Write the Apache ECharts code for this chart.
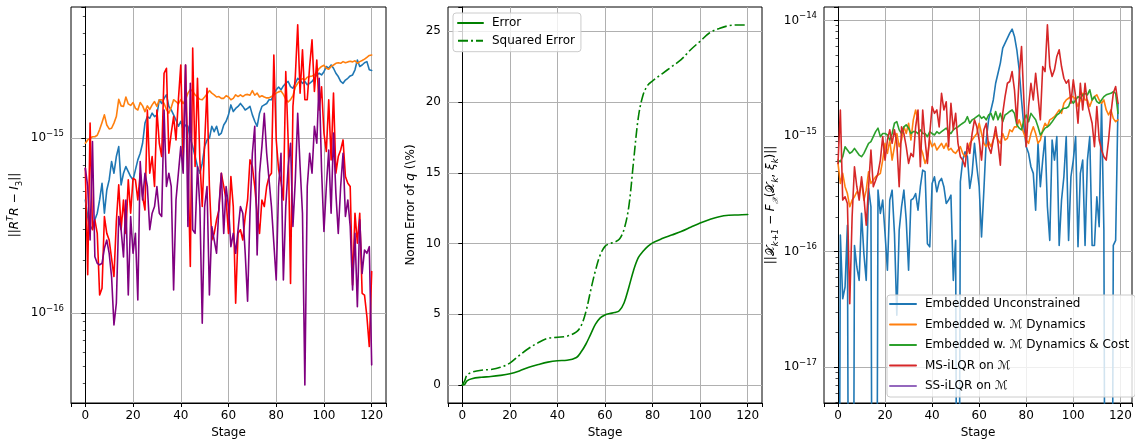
<!DOCTYPE html>
<html><head><meta charset="utf-8">
<script src="https://cdn.jsdelivr.net/npm/echarts@6/dist/echarts.min.js"></script>
<style>html,body{margin:0;padding:0;background:#fff}#c{width:1135px;height:444px}</style>
</head><body><div id="c"></div>
<script>
// ---------------- DATA (stage index = array position) ----------------
// Left panel: ||R^T R - I3|| per stage 0..120
const leftBlue = [
4.44e-16,3.57e-16,3.0e-16,3.13e-16,3.42e-16,3.73e-16,4.44e-16,5.53e-16,3.73e-16,5.06e-16,
5.78e-16,7.36e-16,6.31e-16,7.86e-16,8.96e-16,5.41e-16,6.31e-16,6.89e-16,6.45e-16,6.04e-16,
5.78e-16,6.59e-16,7.52e-16,8.21e-16,9.36e-16,1.22e-15,1.33e-15,1.30e-15,1.39e-15,1.33e-15,
1.36e-15,1.66e-15,1.58e-15,1.69e-15,1.77e-15,1.52e-15,1.45e-15,1.36e-15,1.27e-15,1.17e-15,
1.25e-15,1.12e-15,1.19e-15,1.17e-15,1.0e-15,8.96e-16,7.86e-16,6.89e-16,6.31e-16,7.2e-16,
8.96e-16,9.78e-16,1.0e-15,1.17e-15,1.09e-15,1.17e-15,1.04e-15,1.07e-15,1.19e-15,1.25e-15,
1.36e-15,1.55e-15,1.42e-15,1.48e-15,1.52e-15,1.58e-15,1.52e-15,1.45e-15,1.48e-15,1.52e-15,
1.36e-15,1.25e-15,1.17e-15,1.39e-15,1.52e-15,1.55e-15,1.58e-15,1.66e-15,1.66e-15,1.81e-15,
1.89e-15,1.96e-15,1.89e-15,1.99e-15,2.06e-15,2.11e-15,1.97e-15,1.93e-15,2.06e-15,2.2e-15,
2.15e-15,2.06e-15,2.11e-15,2.02e-15,2.06e-15,2.11e-15,2.2e-15,2.3e-15,2.35e-15,2.3e-15,
2.4e-15,2.57e-15,2.51e-15,2.62e-15,2.51e-15,2.35e-15,2.25e-15,2.11e-15,2.06e-15,2.15e-15,
2.2e-15,2.27e-15,2.3e-15,2.46e-15,2.8e-15,2.57e-15,2.62e-15,2.7e-15,2.74e-15,2.46e-15,
2.44e-15];
const leftOrange = [
9.36e-16,9.78e-16,1.0e-15,1.02e-15,1.02e-15,1.04e-15,1.12e-15,1.23e-15,1.36e-15,1.19e-15,
1.13e-15,1.14e-15,1.22e-15,1.33e-15,1.67e-15,1.53e-15,1.52e-15,1.72e-15,1.57e-15,1.54e-15,
1.6e-15,1.48e-15,1.45e-15,1.6e-15,1.53e-15,1.42e-15,1.53e-15,1.46e-15,1.55e-15,1.62e-15,
1.52e-15,1.66e-15,1.66e-15,1.58e-15,1.46e-15,1.39e-15,1.5e-15,1.66e-15,1.62e-15,1.57e-15,
1.66e-15,1.58e-15,1.66e-15,1.81e-15,1.9e-15,1.85e-15,1.77e-15,1.72e-15,1.67e-15,1.66e-15,
1.72e-15,1.79e-15,1.87e-15,1.81e-15,1.77e-15,1.72e-15,1.73e-15,1.69e-15,1.69e-15,1.75e-15,
1.72e-15,1.66e-15,1.69e-15,1.77e-15,1.73e-15,1.77e-15,1.73e-15,1.77e-15,1.78e-15,1.76e-15,
1.87e-15,1.76e-15,1.81e-15,1.72e-15,1.75e-15,1.72e-15,1.7e-15,1.7e-15,1.73e-15,1.77e-15,
1.81e-15,1.84e-15,1.86e-15,1.78e-15,1.67e-15,1.61e-15,1.66e-15,1.75e-15,1.96e-15,2.06e-15,
2.14e-15,2.19e-15,2.15e-15,2.23e-15,2.25e-15,2.27e-15,2.3e-15,2.39e-15,2.5e-15,2.57e-15,
2.61e-15,2.51e-15,2.48e-15,2.57e-15,2.62e-15,2.68e-15,2.7e-15,2.68e-15,2.74e-15,2.7e-15,
2.73e-15,2.75e-15,2.73e-15,2.77e-15,2.68e-15,2.74e-15,2.78e-15,2.83e-15,2.9e-15,2.97e-15,
2.99e-15];
const leftRed = [
6.74e-16,1.66e-16,1.22e-15,3.0e-16,3.42e-16,2.86e-16,1.27e-16,1.39e-16,3.57e-16,2.86e-16,
2.62e-16,2.06e-16,1.62e-16,3.34e-16,5.41e-16,3.0e-16,4.44e-16,2.86e-16,5.78e-16,3.73e-16,
5.91e-16,5.78e-16,4.44e-16,6.31e-16,4.64e-16,3.89e-16,1.45e-15,6.31e-16,7.86e-16,5.3e-16,
1.45e-15,9.36e-16,7.86e-16,2.35e-15,2.51e-15,8.21e-16,1.07e-15,1.33e-15,9.78e-16,1.66e-15,
2.62e-15,7.52e-16,2.62e-15,7.2e-16,1.85e-16,3.27e-15,6.89e-16,2.2e-15,7.52e-16,4.07e-16,
9.36e-16,1.93e-15,5.3e-16,2.62e-16,2.86e-16,3.42e-16,3.89e-16,6.31e-16,5.3e-16,4.44e-16,
2.86e-16,6.04e-16,4.07e-16,1.14e-16,2.86e-16,3.0e-16,2.62e-16,3.57e-16,4.44e-16,7.52e-16,
6.89e-16,5.3e-16,3.73e-16,2.86e-16,4.44e-16,4.07e-16,5.3e-16,6.04e-16,6.31e-16,2.99e-15,
9.78e-16,6.59e-16,5.66e-16,4.44e-16,2.4e-15,9.78e-16,1.48e-16,1.52e-15,2.25e-15,4.45e-15,
1.81e-15,3.2e-15,1.66e-15,1.66e-15,2.57e-15,3.65e-15,1.85e-15,2.8e-15,1.45e-15,1.97e-15,
1.07e-15,8.39e-16,1.66e-15,7.52e-16,1.81e-15,6.31e-16,7.86e-16,8.57e-16,9.78e-16,6.04e-16,
5.53e-16,5.3e-16,1.45e-16,3.73e-16,2.51e-16,3.73e-16,1.3e-16,1.27e-16,9.57e-17,6.45e-17,
1.73e-16];
const leftPurple = [
6.74e-16,5.3e-16,2.62e-16,9.57e-16,2.1e-16,1.93e-16,1.89e-16,1.93e-16,2.35e-16,2.62e-16,
2.2e-16,1.62e-16,8.57e-17,1.14e-16,3.57e-16,3.0e-16,2.1e-16,4.44e-16,1.27e-16,3.57e-16,
2.2e-16,2.86e-16,1.19e-16,7.36e-16,4.44e-16,6.31e-16,5.3e-16,3.0e-16,3.73e-16,4.07e-16,
5.3e-16,3.73e-16,3.57e-16,1.45e-15,5.3e-16,6.31e-16,5.3e-16,1.36e-16,4.44e-16,6.31e-16,
8.96e-16,6.31e-16,2.62e-15,3.13e-16,2.06e-15,3.0e-16,2.86e-16,6.89e-16,4.07e-16,8.76e-17,
4.07e-16,5.3e-16,1.27e-16,3.13e-16,2.62e-16,2.2e-16,4.07e-16,6.31e-16,2.86e-16,5.3e-16,
4.07e-16,2.4e-16,2.86e-16,2.2e-16,3.0e-16,4.07e-16,3.73e-16,2.2e-16,1.17e-16,3.73e-16,
8.21e-16,1.17e-15,2.15e-16,6.31e-16,8.96e-16,1.39e-15,8.21e-16,5.78e-16,4.07e-16,2.51e-16,
1.55e-16,5.3e-16,8.21e-16,1.55e-16,4.07e-16,6.89e-16,9.36e-16,3.13e-16,5.78e-16,1.39e-15,
6.89e-16,3.73e-16,3.89e-17,5.3e-16,8.21e-16,6.31e-16,1.17e-15,9.36e-16,2.2e-15,6.59e-16,
2.93e-16,5.3e-16,8.57e-16,3.73e-16,1.07e-15,4.84e-16,2.86e-16,5.3e-16,8.21e-16,3.57e-16,
4.44e-16,3.13e-16,1.36e-16,2.86e-16,1.09e-16,3.42e-16,1.69e-16,2.3e-16,2.2e-16,2.4e-16,
5.07e-17];

// Middle panel: Norm error of q (%) at sampled stages
const midStages  = [0,1,2,4,8,12,16,20,24,28,32,36,40,44,48,50,52,54,56,58,60,62,64,66,68,70,72,74,76,78,80,84,88,92,96,100,104,108,112,116,120];
const errorPct   = [0,0.05,0.3,0.45,0.55,0.6,0.68,0.8,1.0,1.25,1.45,1.62,1.72,1.75,1.95,2.35,2.9,3.6,4.3,4.75,4.95,5.05,5.12,5.25,5.8,6.9,8.1,9.0,9.45,9.8,10.05,10.35,10.6,10.85,11.15,11.45,11.7,11.9,12.0,12.02,12.05];
const sqErrorPct = [0,0.3,0.7,0.9,1.05,1.1,1.25,1.55,2.1,2.6,3.0,3.3,3.38,3.45,3.75,4.2,5.2,6.7,8.1,9.2,9.8,10.0,10.1,10.3,11.0,12.6,15.8,18.9,20.5,21.2,21.5,22.0,22.5,23.0,23.7,24.3,24.9,25.2,25.4,25.45,25.45];

// Right panel: dynamics violation per stage 0..119 (0 = exactly zero)
const rightBlue = [
0,1.39e-16,3.91e-17,4.94e-17,1.69e-16,0,0,1.13e-16,7.36e-17,5.64e-17,
2.14e-16,9.61e-17,5.64e-17,3.52e-16,2.44e-16,0,0,3.4e-16,2.14e-16,2.79e-16,
1.43e-16,6.89e-17,2.79e-16,3.4e-16,1.43e-16,2.81e-17,1.53e-16,2.44e-16,3.4e-16,1.87e-16,
6.89e-17,2.79e-16,2.88e-16,3.18e-16,2.28e-16,3.64e-16,5.07e-16,4.91e-16,1.17e-16,1.1e-16,
3.89e-16,4.44e-16,3.29e-16,4.02e-16,4.3e-16,3.64e-16,2.61e-16,2.79e-16,3.08e-16,5.64e-17,
1.25e-16,0,4.02e-16,6.19e-16,7.31e-16,6.62e-16,3.52e-16,4.75e-16,8.64e-16,5.42e-16,
3.64e-16,1.34e-16,3.4e-16,9.23e-16,1.38e-15,1.68e-15,2.05e-15,2.86e-15,3.49e-15,4.27e-15,
5.76e-15,6.36e-15,7.03e-15,7.77e-15,8.41e-15,7.27e-15,5.57e-15,3.74e-15,2.05e-15,1.2e-15,
8.08e-16,7.08e-16,5.42e-16,4.75e-16,2.28e-16,8.64e-16,3.64e-16,6.19e-16,9.87e-16,2.44e-16,
1.25e-16,9.23e-16,6.19e-16,9.87e-16,1.13e-16,2.79e-16,4.44e-16,9.87e-16,1.25e-16,4.44e-16,
6.19e-16,9.87e-16,1.1e-16,4.75e-16,6.19e-16,1.13e-16,6.19e-16,9.87e-16,1.13e-16,1.13e-16,
2.98e-16,1.64e-16,1.92e-15,1.53e-16,0,0,0,1.13e-16,1.25e-16,1.92e-15];
const rightOrange = [
5.79e-16,3.89e-16,4.75e-16,3.64e-16,3.18e-16,2.44e-16,2.79e-16,2.98e-16,3.29e-16,3.18e-16,
4.02e-16,2.79e-16,3.4e-16,4.91e-16,3.89e-16,4.15e-16,4.44e-16,4.59e-16,4.75e-16,6.19e-16,
8.64e-16,7.08e-16,9.23e-16,6.19e-16,8.08e-16,1.05e-15,8.08e-16,9.23e-16,1.2e-15,1.05e-15,
1.29e-15,9.23e-16,1.38e-15,1.68e-15,1.38e-15,8.08e-16,7.08e-16,5.79e-16,6.62e-16,9.23e-16,
8.08e-16,8.64e-16,7.56e-16,8.08e-16,8.64e-16,7.82e-16,8.64e-16,7.56e-16,7.82e-16,7.31e-16,
7.08e-16,7.56e-16,8.08e-16,7.08e-16,6.62e-16,7.08e-16,8.64e-16,9.23e-16,9.87e-16,1.05e-15,
1.29e-15,1.05e-15,8.64e-16,8.08e-16,8.93e-16,8.08e-16,9.23e-16,1.05e-15,9.23e-16,8.64e-16,
1.05e-15,9.23e-16,9.54e-16,1.13e-15,1.09e-15,1.2e-15,1.2e-15,1.38e-15,1.2e-15,1.05e-15,
9.23e-16,8.64e-16,1.05e-15,1.2e-15,1.05e-15,8.64e-16,9.23e-16,1.13e-15,1.29e-15,1.2e-15,
1.38e-15,1.42e-15,1.47e-15,1.57e-15,1.68e-15,1.57e-15,1.92e-15,2.05e-15,2.12e-15,2.19e-15,
2.19e-15,2.05e-15,1.8e-15,2.05e-15,2.34e-15,2.05e-15,2.05e-15,1.8e-15,2.05e-15,2.19e-15,
2.27e-15,2.05e-15,1.92e-15,2.05e-15,1.68e-15,1.52e-15,1.68e-15,1.42e-15,1.33e-15,1.38e-15];
const rightGreen = [
6.19e-16,5.99e-16,6.62e-16,8.08e-16,7.56e-16,7.08e-16,7.31e-16,7.82e-16,7.31e-16,6.84e-16,
6.62e-16,7.08e-16,7.82e-16,8.64e-16,8.93e-16,9.87e-16,1.09e-15,1.17e-15,9.87e-16,1.05e-15,
1.05e-15,1.02e-15,9.23e-16,1.05e-15,1.29e-15,1.33e-15,1.13e-15,1.05e-15,1.2e-15,1.25e-15,
1.17e-15,1.05e-15,1.09e-15,1.09e-15,1.05e-15,1.13e-15,1.05e-15,1.05e-15,9.87e-16,1.09e-15,
1.05e-15,1.02e-15,1.09e-15,1.05e-15,1.09e-15,1.13e-15,1.17e-15,1.09e-15,1.05e-15,1.13e-15,
1.17e-15,1.2e-15,1.25e-15,1.29e-15,1.33e-15,1.47e-15,1.29e-15,1.38e-15,1.42e-15,1.47e-15,
1.52e-15,1.42e-15,1.47e-15,1.38e-15,1.52e-15,1.57e-15,1.38e-15,1.63e-15,1.38e-15,1.57e-15,
1.33e-15,1.52e-15,1.57e-15,1.63e-15,1.68e-15,1.57e-15,1.25e-15,1.17e-15,1.13e-15,1.38e-15,
1.52e-15,1.33e-15,1.57e-15,1.47e-15,1.38e-15,1.2e-15,1.02e-15,1.09e-15,1.17e-15,1.2e-15,
1.25e-15,1.33e-15,1.42e-15,1.52e-15,1.57e-15,1.68e-15,1.74e-15,1.74e-15,1.8e-15,2.05e-15,
1.92e-15,2.05e-15,2.19e-15,2.12e-15,2.27e-15,2.34e-15,2.27e-15,2.51e-15,2.05e-15,2.19e-15,
1.98e-15,1.92e-15,2.05e-15,2.19e-15,2.27e-15,2.31e-15,2.34e-15,2.42e-15,2.34e-15,1.57e-15];
const rightRed = [
5.79e-16,1.68e-15,2.79e-16,2.98e-16,2.61e-16,3.54e-17,2.0e-16,5.42e-16,3.64e-16,2.79e-16,
4.44e-16,2.98e-16,1.69e-16,3.64e-16,7.56e-16,3.64e-16,4.15e-16,4.75e-16,6.19e-16,9.87e-16,
6.19e-16,9.23e-16,1.13e-15,8.64e-16,1.13e-15,8.64e-16,3.64e-16,1.2e-15,1.05e-15,8.08e-16,
5.79e-16,7.08e-16,6.62e-16,1.2e-15,1.68e-15,5.42e-16,1.68e-15,9.23e-16,5.79e-16,1.05e-15,
1.8e-15,1.57e-15,1.68e-15,1.2e-15,2.34e-15,1.68e-15,1.98e-15,8.08e-16,1.92e-15,1.13e-15,
1.57e-15,8.64e-16,6.62e-16,6.19e-16,5.42e-16,8.64e-16,7.08e-16,1.05e-15,1.38e-15,1.2e-15,
9.23e-16,6.19e-16,1.13e-15,1.29e-15,8.08e-16,7.08e-16,9.23e-16,1.2e-15,8.64e-16,5.6e-16,
1.57e-15,2.19e-15,2.86e-15,2.96e-15,3.61e-15,2.51e-15,1.29e-15,3.27e-15,5.95e-15,2.05e-15,
8.08e-16,1.8e-15,2.86e-15,2.05e-15,3.49e-15,2.19e-15,1.38e-15,3.99e-15,3.61e-15,9.17e-15,
3.99e-15,3.27e-15,3.74e-15,4.88e-15,5.57e-15,3.99e-15,3.16e-15,2.86e-15,3.06e-15,1.92e-15,
3.06e-15,2.19e-15,1.29e-15,2.86e-15,1.68e-15,2.86e-15,1.92e-15,1.57e-15,1.29e-15,8.08e-16,
1.8e-15,9.23e-16,7.56e-16,6.62e-16,6.19e-16,9.23e-16,1.57e-15,2.34e-15,2.68e-15,1.92e-15];
const rightPurple = [
0,0,0,0,0,0,0,0,0,0, 0,0,0,0,0,0,0,0,0,0, 0,0,0,0,0,0,0,0,0,0,
0,0,0,0,0,0,0,0,0,0, 0,0,0,0,0,0,0,0,0,0, 0,0,0,0,0,0,0,0,0,0,
0,0,0,0,0,0,0,0,0,0, 0,0,0,0,0,0,0,0,0,0, 0,0,0,0,0,0,0,0,0,0,
0,0,0,0,0,0,0,0,0,0, 0,0,0,0,0,0,0,0,0,0, 0,0,0,0,0,0,0,0,0,0];

const rightNames = ['Embedded Unconstrained', 'Embedded w. \u2133 Dynamics', 'Embedded w. \u2133 Dynamics & Cost', 'MS-iLQR on \u2133', 'SS-iLQR on \u2133'];
const midNames = ['Error', 'Squared Error'];

// ---------------- CHART ----------------
const F = 'DejaVu Sans';
const UNIT = 1e-16;          // log axes are scaled by this unit; labels show true powers
const LEFT_Y = [3.07e-17, 5.62e-15];
const RIGHT_Y = [4.9e-18, 1.306e-14];
const GRID_C = '#b0b0b0';

function logData(arr) {      // non-positive values are clipped far below the axis (like matplotlib)
  return arr.map((v, i) => [i, v > 0 ? v / UNIT : 1e-6]);
}
function powLabel(v) {
  const l = Math.log10(v), r = Math.round(l);
  if (Math.abs(l - r) > 1e-6) return '';
  const e = r + Math.round(Math.log10(UNIT));
  return '{b|10}{e|' + (e < 0 ? '\u2212' : '') + Math.abs(e) + '}';
}
const powRich = {
  b: {fontSize: 12, fontFamily: F, color: '#000', lineHeight: 18},
  e: {fontSize: 8.5, fontFamily: F, color: '#000', lineHeight: 10.5, verticalAlign: 'top'}
};
const nameRich = {
  i: {fontSize: 12, fontFamily: F, fontStyle: 'italic', color: '#000', lineHeight: 18},
  s: {fontSize: 8.5, fontFamily: F, fontStyle: 'italic', color: '#000', lineHeight: 10.5, verticalAlign: 'top'},
  u: {fontSize: 8.5, fontFamily: F, fontStyle: 'italic', color: '#000', lineHeight: 10.5, verticalAlign: 'bottom'},
  n: {fontSize: 8.5, fontFamily: F, color: '#000', lineHeight: 10.5, verticalAlign: 'bottom'},
  c: {fontSize: 12, fontFamily: F, color: '#000', lineHeight: 18}
};
const nameStyle = {fontSize: 12, fontFamily: F, color: '#000', lineHeight: 18, rich: nameRich};

function xAxisCfg(gi, min, max) {
  return {
    type: 'value', gridIndex: gi, min: min, max: max, splitNumber: 6,
    axisLine: {show: true, onZero: false, lineStyle: {color: '#000', width: 1}},
    axisTick: {show: true, length: 4, lineStyle: {color: '#000', width: 1}},
    axisLabel: {color: '#000', fontSize: 12, fontFamily: F, margin: 7,
      formatter: v => (Math.abs(v % 20) < 1e-9 ? String(v) : '')},
    splitLine: {show: true, showMinLine: false, showMaxLine: false, lineStyle: {color: GRID_C, width: 1}},
    name: 'Stage', nameLocation: 'middle', nameGap: 23,
    nameTextStyle: {fontSize: 12, fontFamily: F, color: '#000'}
  };
}
function logYAxisCfg(gi, range, name, gap) {
  return {
    type: 'log', logBase: 10, gridIndex: gi, min: range[0] / UNIT, max: range[1] / UNIT,
    axisLine: {show: true, lineStyle: {color: '#000', width: 1}},
    axisTick: {show: true, length: 4, lineStyle: {color: '#000', width: 1}},
    minorTick: {show: true, splitNumber: 9, length: 2.5, lineStyle: {color: '#000', width: 0.7}},
    axisLabel: {formatter: powLabel, rich: powRich, margin: 7, color: '#000', fontFamily: F},
    splitLine: {show: true, showMinLine: false, showMaxLine: false, lineStyle: {color: GRID_C, width: 1}},
    minorSplitLine: {show: false},
    name: name, nameLocation: 'middle', nameRotate: 90, nameGap: gap, nameTextStyle: nameStyle
  };
}
function lineSeries(name, xi, data, color, extra) {
  return Object.assign({
    name: name, type: 'line', xAxisIndex: xi, yAxisIndex: xi, data: data,
    symbol: 'none', showSymbol: false, clip: true, animation: false,
    lineStyle: {color: color, width: 1.6, cap: 'round', join: 'round'},
    itemStyle: {color: color}
  }, extra || {});
}

const midErr = midStages.map((s, k) => [s, errorPct[k]]);
const midSq  = midStages.map((s, k) => [s, sqErrorPct[k]]);

const legendBase = {
  orient: 'vertical', selectedMode: false, itemHeight: 12,
  backgroundColor: 'rgba(255,255,255,0.8)', borderColor: '#cccccc', borderWidth: 1, borderRadius: 3,
  textStyle: {fontSize: 12, fontFamily: F, color: '#000', padding: [0, 0, 0, 4]},
  itemStyle: {opacity: 0}
};

const option = {
  animation: false,
  backgroundColor: '#fff',
  textStyle: {fontFamily: F},
  grid: [
    {left: 71, top: 7, width: 315, height: 396, show: true, borderColor: '#000', borderWidth: 1, backgroundColor: 'transparent'},
    {left: 448, top: 7, width: 314, height: 396, show: true, borderColor: '#000', borderWidth: 1, backgroundColor: 'transparent'},
    {left: 824, top: 7, width: 314, height: 396, show: true, borderColor: '#000', borderWidth: 1, backgroundColor: 'transparent'}
  ],
  xAxis: [xAxisCfg(0, -6, 126), xAxisCfg(1, -6, 126), xAxisCfg(2, -5.95, 124.95)],
  yAxis: [
    logYAxisCfg(0, LEFT_Y, '||{i|R}{s|T}{i|R} \u2212 {i|I}{n|3}||', 47),
    {
      type: 'value', gridIndex: 1, min: -1.27, max: 26.72,
      axisLine: {show: true, lineStyle: {color: '#000', width: 1}},
      axisTick: {show: true, length: 4, lineStyle: {color: '#000', width: 1}},
      axisLabel: {color: '#000', fontSize: 12, fontFamily: F, margin: 7,
        formatter: v => (Math.abs(v % 5) < 1e-9 ? String(v) : '')},
      splitLine: {show: true, showMinLine: false, showMaxLine: false, lineStyle: {color: GRID_C, width: 1}},
      name: 'Norm Error of {i|q} (\\%)', nameLocation: 'middle', nameRotate: 90, nameGap: 28,
      nameTextStyle: nameStyle
    },
    logYAxisCfg(2, RIGHT_Y, '||{c|\uD835\uDCB3}{u|k+1} \u2212 {i|F}{u|\uD835\uDCB3}({c|\uD835\uDCB3}{u|k}, {i|\u03BE}{u|k})||', 42)
  ],
  legend: [
    Object.assign({}, legendBase, {data: midNames, left: 453, top: 13, itemWidth: 25, itemGap: 5.7, padding: [4, 6, 5, 4]}),
    Object.assign({}, legendBase, {data: rightNames, left: 887, top: 295, itemWidth: 26, itemGap: 8.5, padding: [3, 6, 5, 2]})
  ],
  series: [
    lineSeries('L-Embedded Unconstrained', 0, logData(leftBlue), '#1f77b4'),
    lineSeries('L-Embedded w. Dynamics', 0, logData(leftOrange), '#ff7f0e'),
    lineSeries('L-MS-iLQR', 0, logData(leftRed), '#ff0000'),
    lineSeries('L-SS-iLQR', 0, logData(leftPurple), '#800080'),
    lineSeries(midNames[0], 1, midErr, '#008000', {smooth: 0.35}),
    lineSeries(midNames[1], 1, midSq, '#008000', {smooth: 0.35,
      lineStyle: {color: '#008000', width: 1.6, type: [10, 3, 2, 3]}}),
    lineSeries(rightNames[0], 2, logData(rightBlue), '#1f77b4'),
    lineSeries(rightNames[1], 2, logData(rightOrange), '#ff7f0e'),
    lineSeries(rightNames[2], 2, logData(rightGreen), '#2ca02c'),
    lineSeries(rightNames[3], 2, logData(rightRed), '#d62728'),
    lineSeries(rightNames[4], 2, logData(rightPurple), '#9467bd')
  ]
};
const chart = echarts.init(document.getElementById('c'), null, {renderer: 'canvas'});
chart.setOption(option);
</script>
</body></html>
